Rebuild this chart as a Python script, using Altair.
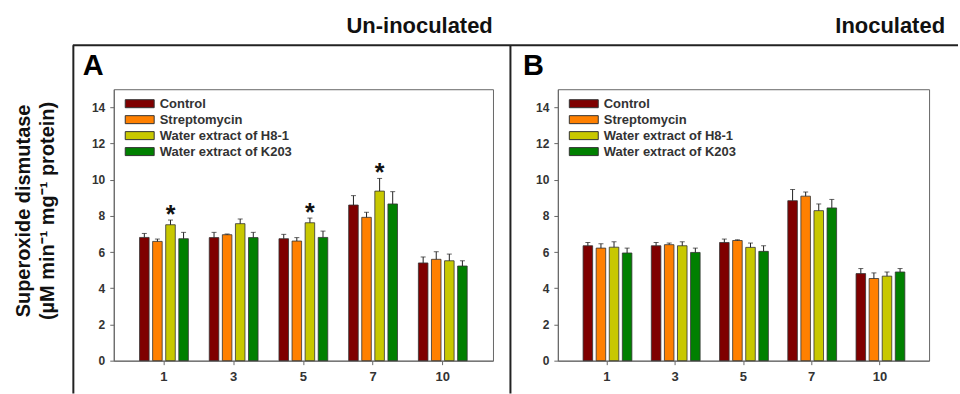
import altair as alt
import pandas as pd

days = ["1", "3", "5", "7", "10"]
treatments = ["Control", "Streptomycin", "Water extract of H8-1", "Water extract of K203"]
colors = ["#7f0000", "#ff8000", "#c8c800", "#008000"]

# Panel A: Un-inoculated (means and error bars per day)
a_control = [6.81, 6.80, 6.74, 8.60, 5.40]
a_strep = [6.59, 6.96, 6.61, 7.92, 5.60]
a_h81 = [7.51, 7.57, 7.62, 9.37, 5.52]
a_k203 = [6.74, 6.80, 6.81, 8.66, 5.23]
a_control_se = [0.22, 0.29, 0.24, 0.52, 0.33]
a_strep_se = [0.13, 0.04, 0.19, 0.28, 0.42]
a_h81_se = [0.26, 0.26, 0.26, 0.70, 0.37]
a_k203_se = [0.35, 0.29, 0.35, 0.68, 0.29]
a_h81_sig = [1, 0, 1, 1, 0]

# Panel B: Inoculated
b_control = [6.35, 6.35, 6.53, 8.84, 4.81]
b_strep = [6.22, 6.41, 6.64, 9.09, 4.54]
b_h81 = [6.27, 6.35, 6.26, 8.29, 4.67]
b_k203 = [5.95, 5.98, 6.04, 8.44, 4.90]
b_control_se = [0.18, 0.18, 0.19, 0.62, 0.28]
b_strep_se = [0.24, 0.09, 0.04, 0.23, 0.31]
b_h81_se = [0.30, 0.22, 0.24, 0.37, 0.23]
b_k203_se = [0.27, 0.24, 0.31, 0.47, 0.19]
b_h81_sig = [0, 0, 0, 0, 0]

y_ticks = [0, 2, 4, 6, 8, 10, 12, 14]
FONT = "Liberation Sans"


def build(means, ses, sig_h81):
    rows = []
    for t_i, t in enumerate(treatments):
        for d_i, d in enumerate(days):
            m = means[t_i][d_i]
            s = ses[t_i][d_i]
            sig = sig_h81[d_i] if t == "Water extract of H8-1" else 0
            rows.append({"day": d, "treatment": t, "mean": m, "upper": m + s, "sig": sig})
    return pd.DataFrame(rows)


df_a = build([a_control, a_strep, a_h81, a_k203],
             [a_control_se, a_strep_se, a_h81_se, a_k203_se], a_h81_sig)
df_b = build([b_control, b_strep, b_h81, b_k203],
             [b_control_se, b_strep_se, b_h81_se, b_k203_se], b_h81_sig)


def panel(df):
    base = alt.Chart(df)
    x = alt.X("day:N", sort=days, title=None,
              scale=alt.Scale(paddingInner=0.3, paddingOuter=0.37),
              axis=alt.Axis(labelAngle=0, tickSize=4, labelPadding=6, labelFontSize=13))
    xo = alt.XOffset("treatment:N", sort=treatments, scale=alt.Scale(paddingInner=0.27))
    yscale = alt.Scale(domain=[0, 15], nice=False)
    yaxis = alt.Axis(values=y_ticks, tickSize=4, labelPadding=5, labelFontSize=12)
    color = alt.Color("treatment:N", sort=treatments, title=None,
                      scale=alt.Scale(domain=treatments, range=colors),
                      legend=alt.Legend(orient="none", legendX=9, legendY=8,
                                        symbolType="M-1,-1L6.25,-1L6.25,1L-1,1Z",
                                        symbolSize=64, symbolStrokeColor="#333",
                                        symbolStrokeWidth=1, symbolOpacity=1,
                                        labelFont=FONT, labelFontSize=13,
                                        labelFontWeight="bold", labelColor="#333",
                                        rowPadding=2, labelOffset=24, padding=0))
    bars = base.mark_bar(stroke="#333", strokeWidth=0.8).encode(
        x=x, xOffset=xo, y=alt.Y("mean:Q", scale=yscale, axis=yaxis, title=None), color=color)
    err = base.mark_rule(color="#222", strokeWidth=1).encode(
        x=x, xOffset=xo, y=alt.Y("mean:Q", scale=yscale, axis=yaxis, title=None), y2="upper:Q")
    cap = base.mark_tick(color="#222", thickness=1, size=5).encode(
        x=x, xOffset=xo, y=alt.Y("upper:Q", scale=yscale, axis=yaxis, title=None))
    stars = base.transform_filter(alt.datum.sig == 1).mark_text(
        text="*", font=FONT, fontSize=25, fontWeight="bold", baseline="alphabetic",
        dy=3, color="#111").encode(
        x=x, xOffset=xo, y=alt.Y("upper:Q", scale=yscale, axis=yaxis, title=None))
    return [bars, err, cap, stars]


one = alt.Data(values=[{"k": 1}])
bg = alt.Chart(one).mark_rect(color="white", opacity=0).encode(
    x=alt.value(-113), x2=alt.value(847), y=alt.value(-88), y2=alt.value(306))
frame_top = alt.Chart(one).mark_rule(color="#222", strokeWidth=2).encode(
    x=alt.value(-41), x2=alt.value(846), y=alt.value(-44))
frame_left = alt.Chart(one).mark_rule(color="#222", strokeWidth=2).encode(
    x=alt.value(-40.5), y=alt.value(-44), y2=alt.value(305))
frame_mid = alt.Chart(one).mark_rule(color="#222", strokeWidth=2).encode(
    x=alt.value(397.5), y=alt.value(-44), y2=alt.value(305))
t_un = alt.Chart(one).mark_text(text="Un-inoculated", font=FONT, fontSize=22,
                                fontWeight="bold", align="center", baseline="alphabetic",
                                color="#111").encode(x=alt.value(306.5), y=alt.value(-56))
t_in = alt.Chart(one).mark_text(text="Inoculated", font=FONT, fontSize=22,
                                fontWeight="bold", align="right", baseline="alphabetic",
                                color="#111").encode(x=alt.value(833), y=alt.value(-56))
t_a = alt.Chart(one).mark_text(text="A", font=FONT, fontSize=29, fontWeight="bold",
                               align="left", baseline="alphabetic", color="#000").encode(
    x=alt.value(-31), y=alt.value(-14))
t_b = alt.Chart(one).mark_text(text="B", font=FONT, fontSize=29, fontWeight="bold",
                               align="left", baseline="alphabetic", color="#000").encode(
    x=alt.value(410), y=alt.value(-14))
yt1 = alt.Chart(one).mark_text(text="Superoxide  dismutase", font=FONT, fontSize=20,
                               fontWeight="bold", angle=270, align="center",
                               baseline="alphabetic", color="#111").encode(
    x=alt.value(-83.5), y=alt.value(122))
yt2 = alt.Chart(one).mark_text(text="(µM min⁻¹ mg⁻¹ protein)", font=FONT, fontSize=20,
                               fontWeight="bold", angle=270, align="center",
                               baseline="alphabetic", color="#111").encode(
    x=alt.value(-60), y=alt.value(122))

panel_a = alt.layer(bg, frame_top, frame_left, frame_mid, t_un, t_in, t_a, t_b, yt1, yt2,
                    *panel(df_a)).properties(width=380, height=272)
panel_b = alt.layer(*panel(df_b)).properties(width=372, height=272)

chart = alt.hconcat(panel_a, panel_b, spacing=65, bounds="flush").resolve_scale(
    color="independent").resolve_legend(color="independent").properties(
    padding=0, background="white").configure_view(
    stroke="#666", strokeWidth=1).configure_axis(
    domainColor="#666", tickColor="#666", labelFont=FONT, labelFontWeight="bold",
    labelColor="#333", grid=False)

chart.save("out.html", embed_options={"renderer": "svg", "actions": False})
